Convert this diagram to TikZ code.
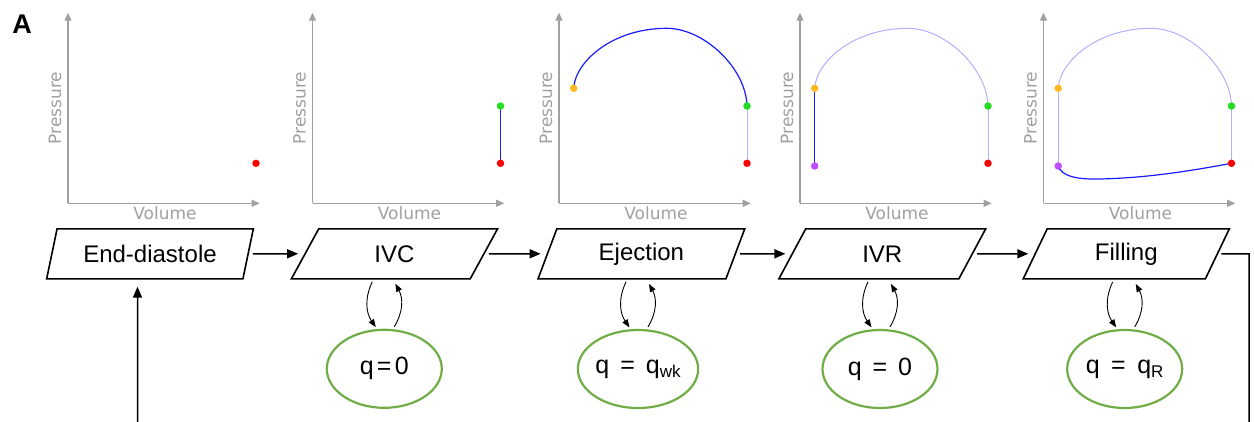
\documentclass[tikz,border=0pt]{standalone}
\usepackage{fontspec}
\setmainfont{Liberation Sans}
\newfontfamily\dejavu{DejaVu Sans}
\usetikzlibrary{shapes.geometric,arrows.meta,calc}
\definecolor{axgray}{HTML}{A0A0A0}
\definecolor{dred}{HTML}{FF0000}
\definecolor{dgreen}{HTML}{22DD22}
\definecolor{dorange}{HTML}{FFB820}
\definecolor{dpurple}{HTML}{C04CFF}
\definecolor{hiblue}{HTML}{1A1AFF}
\definecolor{loblue}{HTML}{B0B0FF}
\definecolor{egreen}{HTML}{70AD47}
\tikzset{
  axis/.style={draw=axgray, line width=1.3pt, -{Triangle[length=8pt,width=7pt]}},
  axlabel/.style={text=axgray, font=\dejavu\fontsize{17}{17}\selectfont, inner sep=0pt},
  hi/.style={draw=hiblue, line width=1.2pt},
  lo/.style={draw=loblue, line width=1pt},
  dot/.style={circle, inner sep=0pt, minimum size=7.5pt},
  stage/.style={trapezium, trapezium left angle=67, trapezium right angle=113,
    trapezium stretches=true, draw, line width=1.6pt, minimum width=207pt,
    minimum height=50pt, inner sep=0pt, font=\fontsize{24}{24}\selectfont},
  flowarrow/.style={-{Triangle[length=11pt,width=9pt]}, line width=1.5pt},
  looparrow/.style={-{Triangle[length=8pt,width=6pt]}, line width=0.9pt},
  qstate/.style={ellipse, draw=egreen, line width=2.2pt, minimum width=115pt,
    minimum height=78pt, inner sep=0pt, font=\fontsize{25}{25}\selectfont},
}
\newcommand\pvaxes[1]{%
  \coordinate (#1o) at (559,-203.3);
  \coordinate (#1y) at (559,-12.7);
  \coordinate (#1x) at (750.7,-203.3);
  \draw[axis] (#1o) -- (#1y);
  \draw[axis] (#1o) -- (#1x);
  \node[axlabel, rotate=90] (#1p) at (546,-108) {Pressure};
  \node[axlabel] (#1v) at (656,-213.5) {Volume};
}
\newcommand\curveIVC[1]{\draw[#1] (747,-163.3) -- (747,-106);}
\newcommand\curveEJ[1]{\draw[#1] (573.7,-88.3) .. controls (575,-62) and (612,-28.3) .. (666.7,-28.3) .. controls (704,-28.3) and (746,-68) .. (747,-106);}
\newcommand\curveIVR[1]{\draw[#1] (573.7,-88.3) -- (573.7,-166);}
\newcommand\curveFILL[1]{\draw[#1] (573.7,-166) .. controls (577,-177) and (595,-179.5) .. (615,-179) .. controls (660,-178) and (700,-172) .. (747,-163.3);}
\newcommand\dotR[1]{\node[dot, fill=dred] (#1r) at (747,-163.3) {};}
\newcommand\dotG[1]{\node[dot, fill=dgreen] (#1g) at (747,-106) {};}
\newcommand\dotO[1]{\node[dot, fill=dorange] (#1a) at (573.7,-88.3) {};}
\newcommand\dotP[1]{\node[dot, fill=dpurple] (#1b) at (573.7,-166) {};}
\begin{document}
\begin{tikzpicture}[x=1pt,y=1pt]
\useasboundingbox (0,0) rectangle (1254,-421);
\clip (0,0) rectangle (1254,-421);
\node[font=\bfseries\fontsize{27}{27}\selectfont, inner sep=0pt] (lbl) at (22,-24) {A};
% panel 1
\begin{scope}[xshift=-491pt]
  \pvaxes{pa}
  \dotR{pa}
\end{scope}
% panel 2
\begin{scope}[xshift=-246.5pt]
  \pvaxes{pb}
  \curveIVC{hi}
  \dotR{pb}\dotG{pb}
\end{scope}
% panel 3
\begin{scope}
  \pvaxes{pc}
  \curveIVC{lo}
  \curveEJ{hi}
  \dotR{pc}\dotG{pc}\dotO{pc}
\end{scope}
% panel 4
\begin{scope}[xshift=241pt]
  \pvaxes{pd}
  \curveIVC{lo}
  \curveEJ{lo}
  \curveIVR{hi}
  \dotR{pd}\dotG{pd}\dotO{pd}\dotP{pd}
\end{scope}
% panel 5
\begin{scope}[xshift=484.5pt]
  \pvaxes{pe}
  \curveIVC{lo}
  \curveEJ{lo}
  \curveIVR{lo}
  \curveFILL{hi}
  \dotR{pe}\dotG{pe}\dotO{pe}\dotP{pe}
\end{scope}
% flow chart
\node[stage] (ed) at (150,-253.8) {\raisebox{-1.5pt}{End-diastole}};
\node[stage] (ivc) at (394.5,-253.8) {\raisebox{-1.5pt}{IVC}};
\node[stage] (ej) at (641.4,-253.8) {\raisebox{-1.5pt}{Ejection}};
\node[stage] (ivr) at (882.3,-253.8) {\raisebox{-1.5pt}{IVR}};
\node[stage] (fill) at (1126.3,-253.8) {\raisebox{-1.5pt}{Filling}};
\node[qstate] (q1) at (384.3,-368.8) {q\hspace{3.3pt}=\hspace{3.3pt}0};
\node[qstate] (q2) at (638,-369) {q \hspace{4pt}= \hspace{4pt}q\raisebox{-4pt}{\fontsize{17}{17}\selectfont wk}};
\node[qstate] (q3) at (880,-369) {q \hspace{4pt}= \hspace{4pt}0};
\node[qstate] (q4) at (1124.7,-369) {q \hspace{4.5pt}= \hspace{4.5pt}q\raisebox{-4pt}{\fontsize{17}{17}\selectfont R}};
\draw[flowarrow, shorten <=4pt, shorten >=6pt] (ed.east) -- (ivc.west);
\draw[flowarrow, shorten <=4pt, shorten >=6pt] (ivc.east) -- (ej.west);
\draw[flowarrow, shorten <=4pt, shorten >=6pt] (ej.east) -- (ivr.west);
\draw[flowarrow, shorten <=4pt, shorten >=6pt] (ivr.east) -- (fill.west);
\foreach \q in {q1,q2,q3,q4}{
  \draw[looparrow] ($(\q.north)+(-12,47)$) to[bend right=30] ($(\q.north)+(-8.5,1.5)$);
  \draw[looparrow] ($(\q.north)+(10,2)$) to[bend right=30] ($(\q.north)+(11,45)$);
}
\coordinate (rt) at (1249,-253.8);
\coordinate (rb) at (1249,-440);
\coordinate (lb) at (137.5,-440);
\draw[flowarrow, shorten <=3pt, shorten >=7pt] (fill.east) -- (rt) -- (rb) -- (lb) -- (lb |- ed.south);
\end{tikzpicture}
\end{document}
